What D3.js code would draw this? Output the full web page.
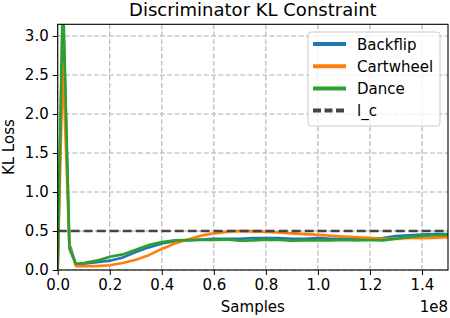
<!DOCTYPE html>
<html><head><meta charset="utf-8">
<script src="https://cdn.jsdelivr.net/npm/d3@7"></script>
<style>body{margin:0;background:#fff}svg{display:block}text{font-family:"DejaVu Sans",sans-serif;fill:#000}</style>
</head><body><svg id="c" width="450" height="318"></svg>
<script>
const samples = [0, 0.02, 0.045, 0.07, 0.1, 0.15, 0.2, 0.25, 0.3, 0.35, 0.4, 0.45, 0.5, 0.55, 0.6, 0.65, 0.7, 0.75, 0.8, 0.85, 0.9, 0.95, 1.0, 1.05, 1.1, 1.15, 1.2, 1.25, 1.3, 1.35, 1.4, 1.45, 1.5];
const backflip = [0.02, 3.4, 0.33, 0.07, 0.08, 0.10, 0.12, 0.16, 0.23, 0.29, 0.34, 0.37, 0.38, 0.39, 0.40, 0.40, 0.40, 0.41, 0.41, 0.41, 0.40, 0.40, 0.41, 0.40, 0.40, 0.40, 0.395, 0.41, 0.435, 0.445, 0.455, 0.46, 0.46];
const cartwheel = [0.02, 2.65, 0.30, 0.05, 0.05, 0.05, 0.06, 0.09, 0.13, 0.19, 0.27, 0.34, 0.39, 0.44, 0.47, 0.49, 0.50, 0.495, 0.49, 0.48, 0.47, 0.46, 0.45, 0.44, 0.43, 0.42, 0.41, 0.40, 0.40, 0.41, 0.41, 0.415, 0.42];
const dance = [0.02, 3.6, 0.27, 0.08, 0.09, 0.12, 0.17, 0.20, 0.26, 0.32, 0.36, 0.38, 0.385, 0.385, 0.385, 0.39, 0.375, 0.38, 0.39, 0.385, 0.375, 0.38, 0.38, 0.38, 0.385, 0.38, 0.385, 0.38, 0.40, 0.42, 0.44, 0.445, 0.45];
const backflipSpread = [0, 0.1, 0.02, 0.01, 0.01, 0.01, 0.01, 0.01, 0.01, 0.01, 0.01, 0.01, 0.01, 0.01, 0.01, 0.01, 0.01, 0.01, 0.01, 0.01, 0.01, 0.01, 0.01, 0.01, 0.01, 0.01, 0.01, 0.01, 0.01, 0.01, 0.01, 0.01, 0.01];
const cartwheelSpread = [0, 0.1, 0.02, 0.01, 0.01, 0.01, 0.01, 0.01, 0.01, 0.015, 0.015, 0.015, 0.02, 0.02, 0.025, 0.03, 0.03, 0.03, 0.025, 0.02, 0.02, 0.02, 0.02, 0.02, 0.02, 0.02, 0.025, 0.025, 0.03, 0.03, 0.03, 0.03, 0.03];
const danceSpread = [0, 0.1, 0.02, 0.01, 0.01, 0.01, 0.01, 0.01, 0.01, 0.01, 0.01, 0.01, 0.01, 0.01, 0.01, 0.01, 0.015, 0.015, 0.01, 0.01, 0.01, 0.01, 0.01, 0.01, 0.01, 0.01, 0.01, 0.01, 0.01, 0.01, 0.01, 0.01, 0.01];
const seriesNames = ["Backflip", "Cartwheel", "Dance"];
const colors = ["#1f77b4", "#ff7f0e", "#2ca02c"];
const constraint = 0.5;
const constraintName = "l_c";
const xTicks = [0, 0.2, 0.4, 0.6, 0.8, 1.0, 1.2, 1.4];
const yTicks = [0, 0.5, 1.0, 1.5, 2.0, 2.5, 3.0];

const svg = d3.select("#c");
const L = 57.7, R = 448, T = 24.3, B = 270;
const x = d3.scaleLinear().domain([0, 1.5]).range([L, R]);
const y = d3.scaleLinear().domain([0, 3.15]).range([B, T]);

svg.append("defs").append("clipPath").attr("id","clip").append("rect")
  .attr("x",L).attr("y",T).attr("width",R-L).attr("height",B-T);

// grid
const grid = svg.append("g").attr("stroke","#b0b0b0").attr("stroke-width",1.1).attr("stroke-dasharray","5,2.3");
xTicks.forEach(t=>grid.append("line").attr("x1",x(t)).attr("x2",x(t)).attr("y1",T).attr("y2",B));
yTicks.forEach(t=>grid.append("line").attr("y1",y(t)).attr("y2",y(t)).attr("x1",L).attr("x2",R));

const data = [backflip, cartwheel, dance];
const spreads = [backflipSpread, cartwheelSpread, danceSpread];
const plot = svg.append("g").attr("clip-path","url(#clip)");
data.forEach((vals,i)=>{
  const pts = samples.map((s,j)=>({s, v: vals[j], d: spreads[i][j]}));
  plot.append("path").datum(pts)
    .attr("d", d3.area().x(d=>x(d.s)).y0(d=>y(d.v-d.d)).y1(d=>y(d.v+d.d)))
    .attr("fill", colors[i]).attr("opacity",0.2);
});
data.forEach((vals,i)=>{
  const pts = samples.map((s,j)=>({s, v: vals[j]}));
  plot.append("path").datum(pts)
    .attr("d", d3.line().x(d=>x(d.s)).y(d=>y(d.v)))
    .attr("fill","none").attr("stroke", colors[i]).attr("stroke-width",2.6).attr("stroke-linejoin","round");
});
plot.append("line").attr("x1",L).attr("x2",R).attr("y1",y(constraint)).attr("y2",y(constraint))
  .attr("stroke","#444").attr("stroke-width",2.7).attr("stroke-dasharray","9,4");

// axes
const xAxis = svg.append("g").attr("transform",`translate(0,${B})`)
  .call(d3.axisBottom(x).tickValues(xTicks).tickFormat(d3.format(".1f")).tickSize(5).tickPadding(4));
const yAxis = svg.append("g").attr("transform",`translate(${L},0)`)
  .call(d3.axisLeft(y).tickValues(yTicks).tickFormat(d3.format(".1f")).tickSize(5).tickPadding(4));
[xAxis,yAxis].forEach(a=>{
  a.select(".domain").remove();
  a.selectAll("line").attr("stroke","#000").attr("stroke-width",1);
  a.selectAll("text").attr("font-size",15).attr("font-family","DejaVu Sans").attr("fill","#000");
});
svg.append("rect").attr("x",L).attr("y",T).attr("width",R-L).attr("height",B-T)
  .attr("fill","none").attr("stroke","#000").attr("stroke-width",1.1);

svg.append("text").attr("x",(L+R)/2).attr("y",16).attr("text-anchor","middle").attr("font-size",18).text("Discriminator KL Constraint");
svg.append("text").attr("x",(L+R)/2).attr("y",312).attr("text-anchor","middle").attr("font-size",15).text("Samples");
svg.append("text").attr("x",R).attr("y",312).attr("text-anchor","end").attr("font-size",15).text("1e8");
svg.append("text").attr("transform",`translate(14,${(T+B)/2}) rotate(-90)`).attr("text-anchor","middle").attr("font-size",15).text("KL Loss");

// legend
const lg = svg.append("g");
lg.append("rect").attr("x",308).attr("y",32).attr("width",132).attr("height",94).attr("rx",3)
  .attr("fill","#fff").attr("fill-opacity",0.8).attr("stroke","#ccc").attr("stroke-width",1);
const items = seriesNames.map((n,i)=>({n, c: colors[i], dash: null})).concat([{n: constraintName, c:"#444", dash:"8,3.5"}]);
items.forEach((it,i)=>{
  const yy = 44 + i*22.2;
  lg.append("line").attr("x1",313).attr("x2",346).attr("y1",yy).attr("y2",yy)
    .attr("stroke",it.c).attr("stroke-width",4).attr("stroke-dasharray",it.dash);
  lg.append("text").attr("x",357).attr("y",yy+5.5).attr("font-size",15).text(it.n);
});
</script></body></html>
